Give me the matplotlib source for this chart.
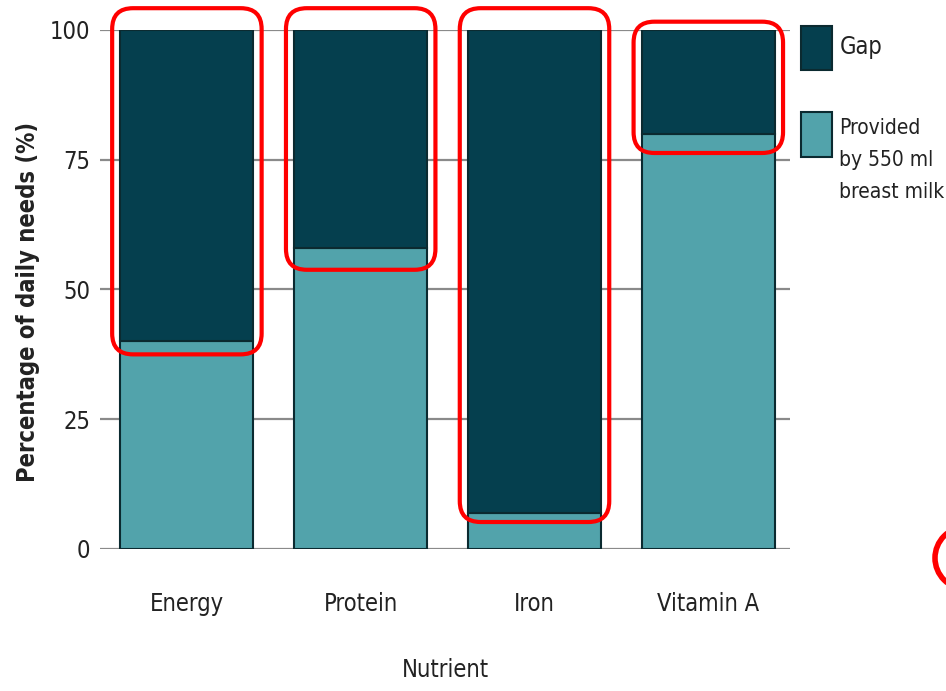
import matplotlib.pyplot as plt
from matplotlib.patches import FancyBboxPatch, Rectangle, Ellipse

nutrients = ['Energy', 'Protein', 'Iron', 'Vitamin A']
provided = [40, 58, 7, 80]
gap = [100 - p for p in provided]

# rounded highlight boxes around the gap segments (bottom, top in %)
box_bottom = [37.5, 53.8, 5.2, 76.3]
box_top = [104.2, 104.2, 104.2, 101.6]

gap_color = '#053f4e'
provided_color = '#52a3ab'
edge_color = '#0b2a30'

plt.rcParams['font.family'] = ['DejaVu Sans']
plt.rcParams['font.stretch'] = 'condensed'

fig = plt.figure(figsize=(9.46, 6.91), dpi=100)
ax = fig.add_axes([0.1057, 0.2055, 0.7294, 0.7511])

x = range(len(nutrients))
ax.bar(x, provided, width=0.766, color=provided_color, edgecolor=edge_color,
       linewidth=1.5, zorder=3)
ax.bar(x, gap, bottom=provided, width=0.766, color=gap_color,
       edgecolor=edge_color, linewidth=1.5, zorder=3)

ax.set_xlim(-0.5, 3.47)
ax.set_ylim(0, 100)
ax.set_yticks([0, 25, 50, 75, 100])
ax.yaxis.grid(True, color='#8a8a8a', linewidth=1.6, zorder=0)
ax.set_axisbelow(True)
for s in ax.spines.values():
    s.set_visible(False)
ax.tick_params(axis='both', length=0, labelsize=17, colors='#222222')
ax.tick_params(axis='y', pad=7)
ax.tick_params(axis='x', pad=31)
ax.set_xticks(list(x))
ax.set_xticklabels(nutrients)

ax.set_ylabel('Percentage of daily needs (%)', fontsize=17, fontweight='bold',
              color='#222222')
ax.yaxis.set_label_coords(-0.087, 0.476)
ax.set_xlabel('Nutrient', fontsize=17, color='#222222', labelpad=30)

# red highlight boxes
aspect = (173.7 / 5.19)
for i in x:
    b = box_bottom[i]
    t = box_top[i]
    p = FancyBboxPatch((i - 0.43, b), 0.86, t - b,
                       boxstyle='round,pad=0,rounding_size=0.12',
                       mutation_aspect=aspect, fill=False, edgecolor='#ff0000',
                       linewidth=3, clip_on=False, zorder=5)
    ax.add_patch(p)

# legend drawn by hand beside the plot
fw, fh = 946, 691
fig.patches.append(Rectangle((801 / fw, 1 - 70 / fh), 31 / fw, 44 / fh,
                             transform=fig.transFigure, facecolor=gap_color,
                             edgecolor=edge_color, linewidth=1.5))
fig.patches.append(Rectangle((801 / fw, 1 - 157 / fh), 31 / fw, 45 / fh,
                             transform=fig.transFigure, facecolor=provided_color,
                             edgecolor=edge_color, linewidth=1.5))
fig.text(840 / fw, 1 - 47 / fh, 'Gap', fontsize=17, color='#222222',
         va='center', ha='left')
fig.text(839 / fw, 1 - 118 / fh, 'Provided\nby 550 ml\nbreast milk', fontsize=15,
         color='#222222', va='top', ha='left', linespacing=1.75)

# partial red circle at the right edge
fig.patches.append(Ellipse((966 / fw, 1 - 558 / fh), 62 / fw, 62 / fh,
                           transform=fig.transFigure, fill=False,
                           edgecolor='#ff0000', linewidth=4))

fig.savefig('out.png', dpi=100, facecolor='white')
